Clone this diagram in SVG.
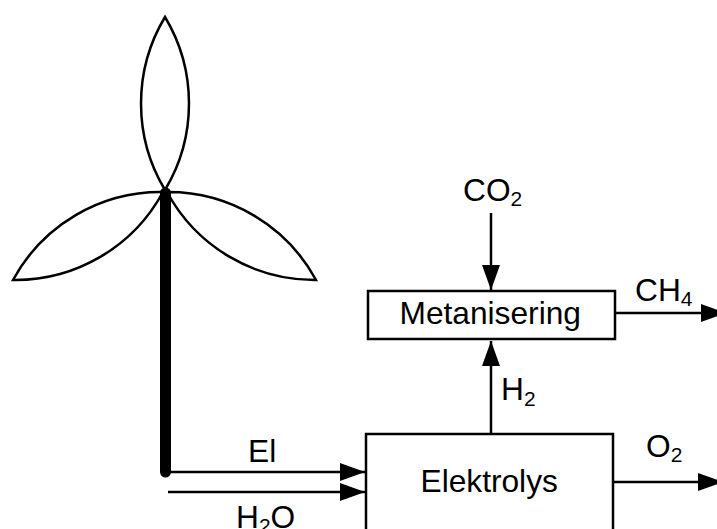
<svg xmlns="http://www.w3.org/2000/svg" width="717" height="529" viewBox="0 0 717 529">
<style>
.b{fill:none;stroke:#000;stroke-width:2.500}
.l{fill:none;stroke:#000;stroke-width:2.500}
.t{font-family:"Liberation Sans",Arial,sans-serif;font-size:31.700px;fill:#000}
.s{font-size:21px}
</style>
<defs>
<marker id="a" markerUnits="userSpaceOnUse" markerWidth="26" markerHeight="18" refX="25" refY="9" orient="auto"><path d="M0 0L25 9L0 18Z" fill="#000"/></marker>
</defs>
<rect width="717" height="529" fill="#fff"/>
<g id="turbine">
<path class="b" d="M165 17A168 168 0 0 0 165 190A168 168 0 0 0 165 17Z"/>
<path class="b" d="M13 280A168 168 0 0 1 163 192A168 168 0 0 1 13 280Z"/>
<path class="b" d="M316 280A168 168 0 0 0 167 192A168 168 0 0 0 316 280Z"/>
<path d="M165.500 193V472" stroke="#000" stroke-width="11" stroke-linecap="round" fill="none"/>
</g>
<g id="connectors">
<path class="l" marker-end="url(#a)" d="M165 472H365"/>
<path class="l" marker-end="url(#a)" d="M168 492H365"/>
<path class="l" marker-end="url(#a)" d="M491 213V290"/>
<path class="l" marker-end="url(#a)" d="M491 434V341"/>
<path class="l" marker-end="url(#a)" d="M615 313H726"/>
<path class="l" marker-end="url(#a)" d="M613 482H723"/>
</g>
<g id="metanisering">
<rect class="b" x="368" y="291" width="247" height="48"/>
<text class="t" x="399.500" y="324">Metanisering</text>
</g>
<g id="elektrolys">
<rect class="b" x="366" y="434" width="247" height="110"/>
<text class="t" x="420.500" y="492">Elektrolys</text>
</g>
<g id="labels">
<text class="t" x="463" y="201">CO<tspan class="s" dy="5">2</tspan></text>
<text class="t" x="635" y="301">CH<tspan class="s" dy="5">4</tspan></text>
<text class="t" x="501" y="400">H<tspan class="s" dy="6">2</tspan></text>
<text class="t" x="646" y="457">O<tspan class="s" dy="5">2</tspan></text>
<text class="t" x="248" y="462">El</text>
<text class="t" x="236" y="528">H<tspan class="s" dy="5">2</tspan><tspan dy="-5">O</tspan></text>
</g>
</svg>
